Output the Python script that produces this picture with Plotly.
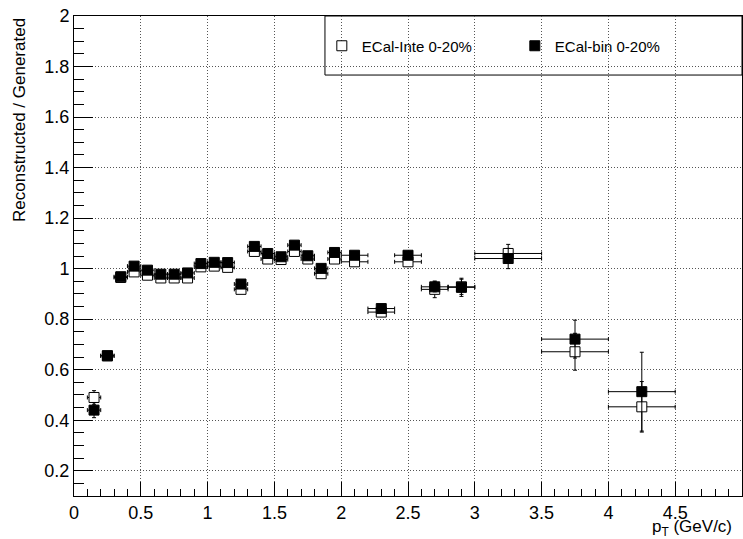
import plotly.graph_objects as go

# ---- data ----
pt_centers = [0.15, 0.25, 0.35, 0.45, 0.55, 0.65, 0.75, 0.85, 0.95, 1.05,
              1.15, 1.25, 1.35, 1.45, 1.55, 1.65, 1.75, 1.85, 1.95,
              2.1, 2.3, 2.5, 2.7, 2.9, 3.25, 3.75, 4.25]
pt_halfwidth = [0.05] * 19 + [0.1] * 5 + [0.25] * 3

inte_ratio = [0.490, 0.655, 0.965, 0.987, 0.974, 0.963, 0.963, 0.963, 1.007, 1.010,
              1.005, 0.918, 1.068, 1.038, 1.036, 1.068, 1.038, 0.980, 1.038,
              1.027, 0.828, 1.027, 0.918, 0.928, 1.060, 0.671, 0.453]
inte_err = [0.027, 0.010, 0.010, 0.010, 0.010, 0.010, 0.010, 0.010, 0.010, 0.010,
            0.010, 0.010, 0.010, 0.010, 0.010, 0.010, 0.010, 0.010, 0.012,
            0.012, 0.010, 0.012, 0.033, 0.030, 0.036, 0.073, 0.100]

bin_ratio = [0.440, 0.655, 0.968, 1.010, 0.994, 0.978, 0.978, 0.983, 1.020, 1.025,
             1.024, 0.939, 1.088, 1.060, 1.047, 1.093, 1.051, 1.001, 1.064,
             1.053, 0.842, 1.053, 0.928, 0.926, 1.040, 0.721, 0.513]
bin_err = [0.030, 0.010, 0.010, 0.010, 0.010, 0.010, 0.010, 0.010, 0.010, 0.010,
           0.010, 0.010, 0.010, 0.010, 0.010, 0.010, 0.010, 0.010, 0.012,
           0.015, 0.012, 0.015, 0.020, 0.036, 0.040, 0.075, 0.156]

FONT = "Liberation Sans, Arial, Helvetica, sans-serif"

fig = go.Figure()
fig.add_trace(go.Scatter(
    x=pt_centers, y=inte_ratio, mode="markers", name="ECal-Inte 0-20%",
    marker=dict(symbol="square", size=10, color="white", line=dict(color="black", width=1)),
    error_x=dict(type="data", array=pt_halfwidth, color="black", thickness=1, width=2),
    error_y=dict(type="data", array=inte_err, color="black", thickness=1, width=2),
))
fig.add_trace(go.Scatter(
    x=pt_centers, y=bin_ratio, mode="markers", name="ECal-bin 0-20%",
    marker=dict(symbol="square", size=10, color="black", line=dict(color="black", width=1)),
    error_x=dict(type="data", array=pt_halfwidth, color="black", thickness=1, width=2),
    error_y=dict(type="data", array=bin_err, color="black", thickness=1, width=2),
))

fig.update_layout(
    width=743, height=539,
    margin=dict(l=74, r=1, t=16, b=43),
    paper_bgcolor="white", plot_bgcolor="white",
    font=dict(family=FONT, size=18, color="black"),
    showlegend=True,
    legend=dict(orientation="h", x=0.371, y=0.9375, xanchor="left", yanchor="middle",
                font=dict(size=15), bgcolor="rgba(0,0,0,0)", borderwidth=0,
                entrywidth=148, entrywidthmode="pixels"),
)
fig.update_xaxes(
    range=[0, 5], showline=True, linecolor="black", linewidth=1, mirror=True,
    ticks="inside", ticklen=14, tickcolor="black", dtick=0.5, tick0=0,
    minor=dict(ticks="inside", ticklen=7, dtick=0.1, tickcolor="black", showgrid=False),
    showgrid=True, gridcolor="#555", griddash="1px,2px", gridwidth=1, zeroline=False,
    tickfont=dict(size=18),
)
fig.update_yaxes(
    range=[0.1, 2], showline=True, linecolor="black", linewidth=1, mirror=True,
    ticks="inside", ticklen=19, tickcolor="black", dtick=0.2, tick0=0,
    minor=dict(ticks="inside", ticklen=10, dtick=0.05, tickcolor="black", showgrid=False),
    showgrid=True, gridcolor="#555", griddash="1px,2px", gridwidth=1, zeroline=False,
    tickfont=dict(size=18),
)
# legend frame
fig.add_shape(type="rect", xref="paper", yref="paper", x0=0.3757, x1=1, y0=0.877, y1=1,
              line=dict(color="black", width=1), fillcolor="white", layer="below")
# axis titles
fig.add_annotation(text="Reconstructed / Generated", xref="paper", yref="paper",
                   x=0, y=1, xanchor="center", yanchor="top", xshift=-55,
                   textangle=-90, showarrow=False, font=dict(size=17))
fig.add_annotation(text="p<sub>T</sub> (GeV/c)", xref="paper", yref="paper",
                   x=1, y=0, xanchor="right", yanchor="top", xshift=-8, yshift=-19,
                   showarrow=False, font=dict(size=17))

fig.write_html("out.html")
